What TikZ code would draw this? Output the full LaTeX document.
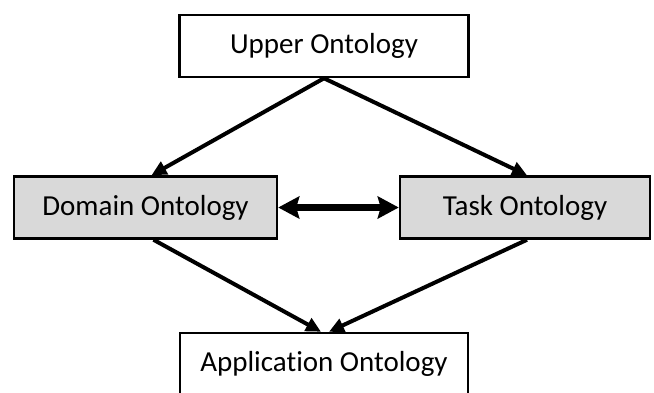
\documentclass[tikz,border=0pt]{standalone}
\usepackage{fontspec}
\setmainfont{Carlito}[RawFeature={-liga}]
\usetikzlibrary{arrows.meta}

\tikzset{
  ontbox/.style={draw, line width=2.5pt, minimum height=62pt, inner sep=0pt,
    font=\fontsize{29}{34}\selectfont},
  plainbox/.style={ontbox, fill=white},
  greybox/.style={ontbox, fill=black!15},
  link/.style={line width=4pt, -{Triangle[length=15pt,width=14pt]}},
  both/.style={line width=7pt, {Stealth[length=21pt,width=22pt,inset=3pt]}-{Stealth[length=21pt,width=22pt,inset=3pt]}}
}

\begin{document}
\begin{tikzpicture}[x=1pt, y=1pt]

\useasboundingbox (0,0) rectangle (654,-392);

%Declare nodes.
\node[plainbox, minimum width=289pt] (upper) at (324,-46) {Upper Ontology};
\node[greybox, minimum width=263pt] (domain) at (145.5,-207.5) {Domain Ontology};
\node[greybox, minimum width=250pt] (task) at (525,-207.5) {Task Ontology};
\node[plainbox, minimum width=288pt] (app) at (324,-364) {Application Ontology};

%Setup edges.
\draw[link] (upper.south) -- ([xshift=6pt]domain.north);
\draw[link] (upper.south) -- ([xshift=2pt]task.north);
\draw[link] ([xshift=8pt]domain.south) -- ([xshift=-3pt]app.north);
\draw[link] ([xshift=2pt]task.south) -- ([xshift=5pt]app.north);
\draw[both] (domain.east) -- (task.west);

\end{tikzpicture}
\end{document}
